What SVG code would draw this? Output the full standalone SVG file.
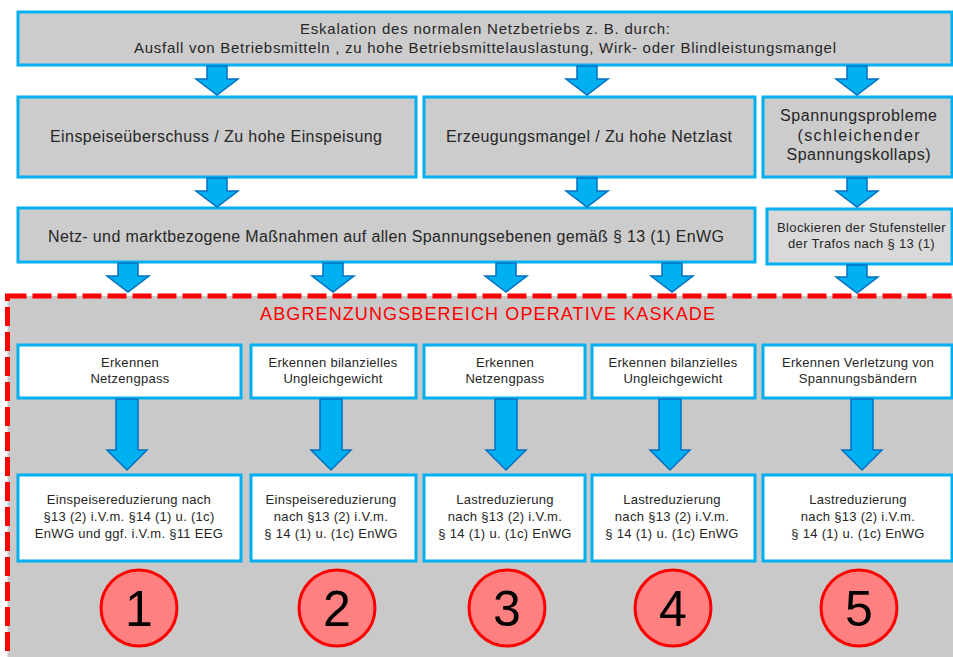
<svg xmlns="http://www.w3.org/2000/svg" width="953" height="657" viewBox="0 0 953 657">
<style>
.box{fill:#cccccc;stroke:#00b0f0;stroke-width:3}
.lbox{fill:#d9d9d9;stroke:#00b0f0;stroke-width:3}
.wbox{fill:#ffffff;stroke:#00b0f0;stroke-width:3}
.arr{fill:#00b0f0;stroke:#0070c0;stroke-width:1.5;stroke-linejoin:miter}
.t{font-family:"Liberation Sans",Arial,sans-serif;fill:#262626;text-anchor:middle}
.t15{font-size:15px}
.t16{font-size:16px}
.t13{font-size:13px;letter-spacing:0.3px}
.circ{fill:#ff8080;stroke:#ff0000;stroke-width:3}
.num{font-family:"Liberation Sans",Arial,sans-serif;font-size:50px;fill:#000;text-anchor:middle}
</style>
<rect width="953" height="657" fill="#ffffff"/>
<g id="cascade-area">
<rect x="7.5" y="296" width="960" height="380" fill="#c9c9c9" stroke="#ff0000" stroke-width="5" stroke-dasharray="19 6"/>
<text x="487.5" y="320" font-family="Liberation Sans,Arial,sans-serif" font-size="18" fill="#ff0000" text-anchor="middle" textLength="455" lengthAdjust="spacing">ABGRENZUNGSBEREICH OPERATIVE KASKADE</text>
</g>
<g id="n-top">
<rect class="box" x="18" y="12" width="934" height="53"/>
<text class="t t15" x="485" y="34" textLength="370" lengthAdjust="spacing">Eskalation des normalen Netzbetriebs z. B. durch:</text>
<text class="t t15" x="485" y="53" textLength="702" lengthAdjust="spacing">Ausfall von Betriebsmitteln , zu hohe Betriebsmittelauslastung, Wirk- oder Blindleistungsmangel</text>
</g>
<g id="n-einspeise">
<rect class="box" x="18" y="97" width="398" height="80"/>
<text class="t t16" x="216" y="142" textLength="332" lengthAdjust="spacing">Einspeiseüberschuss / Zu hohe Einspeisung</text>
</g>
<g id="n-erzeugung">
<rect class="box" x="424" y="97" width="331" height="80"/>
<text class="t t16" x="589" y="142" textLength="286" lengthAdjust="spacing">Erzeugungsmangel / Zu hohe Netzlast</text>
</g>
<g id="n-spannung">
<rect class="box" x="763" y="97" width="189" height="80"/>
<text class="t t16" x="858.5" y="121" textLength="157" lengthAdjust="spacing">Spannungsprobleme</text>
<text class="t t16" x="858.5" y="141" textLength="122" lengthAdjust="spacing">(schleichender</text>
<text class="t t16" x="858.5" y="160" textLength="144" lengthAdjust="spacing">Spannungskollaps)</text>
</g>
<g id="n-massnahmen">
<rect class="box" x="18" y="208" width="737" height="54"/>
<text class="t t16" x="386" y="242" textLength="676" lengthAdjust="spacing">Netz- und marktbezogene Maßnahmen auf allen Spannungsebenen gemäß § 13 (1) EnWG</text>
</g>
<g id="n-blockieren">
<rect class="lbox" x="767" y="209" width="185" height="55"/>
<text class="t t13" x="861.5" y="232" textLength="169" lengthAdjust="spacing">Blockieren der Stufensteller</text>
<text class="t t13" x="861.5" y="248" textLength="147" lengthAdjust="spacing">der Trafos nach § 13 (1)</text>
</g>
<g id="n-erk1">
<rect class="wbox" x="18" y="345" width="223" height="53"/>
<text class="t t13" x="130" y="367">Erkennen</text>
<text class="t t13" x="130" y="383">Netzengpass</text>
</g>
<g id="n-erk2">
<rect class="wbox" x="251" y="345" width="165" height="53"/>
<text class="t t13" x="333" y="367">Erkennen bilanzielles</text>
<text class="t t13" x="333" y="383">Ungleichgewicht</text>
</g>
<g id="n-erk3">
<rect class="wbox" x="424" y="345" width="161" height="53"/>
<text class="t t13" x="505" y="367">Erkennen</text>
<text class="t t13" x="505" y="383">Netzengpass</text>
</g>
<g id="n-erk4">
<rect class="wbox" x="592" y="345" width="163" height="53"/>
<text class="t t13" x="673" y="367">Erkennen bilanzielles</text>
<text class="t t13" x="673" y="383">Ungleichgewicht</text>
</g>
<g id="n-erk5">
<rect class="wbox" x="763" y="345" width="189" height="53"/>
<text class="t t13" x="858" y="367">Erkennen Verletzung von</text>
<text class="t t13" x="858" y="383">Spannungsbändern</text>
</g>
<g id="n-red1">
<rect class="wbox" x="18" y="475" width="223" height="86"/>
<text class="t t13" x="129" y="504">Einspeisereduzierung nach</text>
<text class="t t13" x="129" y="521">§13 (2) i.V.m. §14 (1) u. (1c)</text>
<text class="t t13" x="129" y="538">EnWG und ggf. i.V.m. §11 EEG</text>
</g>
<g id="n-red2">
<rect class="wbox" x="251" y="475" width="165" height="86"/>
<text class="t t13" x="331" y="504">Einspeisereduzierung</text>
<text class="t t13" x="331" y="521">nach §13 (2) i.V.m.</text>
<text class="t t13" x="331" y="538">§ 14 (1) u. (1c) EnWG</text>
</g>
<g id="n-red3">
<rect class="wbox" x="424" y="475" width="161" height="86"/>
<text class="t t13" x="505" y="504">Lastreduzierung</text>
<text class="t t13" x="505" y="521">nach §13 (2) i.V.m.</text>
<text class="t t13" x="505" y="538">§ 14 (1) u. (1c) EnWG</text>
</g>
<g id="n-red4">
<rect class="wbox" x="592" y="475" width="163" height="86"/>
<text class="t t13" x="672" y="504">Lastreduzierung</text>
<text class="t t13" x="672" y="521">nach §13 (2) i.V.m.</text>
<text class="t t13" x="672" y="538">§ 14 (1) u. (1c) EnWG</text>
</g>
<g id="n-red5">
<rect class="wbox" x="763" y="475" width="189" height="86"/>
<text class="t t13" x="858" y="504">Lastreduzierung</text>
<text class="t t13" x="858" y="521">nach §13 (2) i.V.m.</text>
<text class="t t13" x="858" y="538">§ 14 (1) u. (1c) EnWG</text>
</g>
<g id="n-c1"><circle class="circ" cx="139" cy="608" r="38"/><text class="num" x="139" y="626">1</text></g>
<g id="n-c2"><circle class="circ" cx="337" cy="608" r="38"/><text class="num" x="337" y="626">2</text></g>
<g id="n-c3"><circle class="circ" cx="507" cy="608" r="38"/><text class="num" x="507" y="626">3</text></g>
<g id="n-c4"><circle class="circ" cx="673" cy="608" r="38"/><text class="num" x="673" y="626">4</text></g>
<g id="n-c5"><circle class="circ" cx="859" cy="608" r="38"/><text class="num" x="859" y="626">5</text></g>
<g id="connectors">
<path class="arr" d="M207 66 h20 v13 h11 l-21 16 l-21 -16 h11 z"/>
<path class="arr" d="M577 66 h20 v13 h11 l-21 16 l-21 -16 h11 z"/>
<path class="arr" d="M847 66 h20 v13 h11 l-21 16 l-21 -16 h11 z"/>
<path class="arr" d="M207 178 h20 v13 h11 l-21 16 l-21 -16 h11 z"/>
<path class="arr" d="M577 178 h20 v13 h11 l-21 16 l-21 -16 h11 z"/>
<path class="arr" d="M847 178 h20 v13 h11 l-21 16 l-21 -16 h11 z"/>
<path class="arr" d="M118 263 h20 v13 h11 l-21 16 l-21 -16 h11 z"/>
<path class="arr" d="M323 263 h20 v13 h11 l-21 16 l-21 -16 h11 z"/>
<path class="arr" d="M496 263 h20 v13 h11 l-21 16 l-21 -16 h11 z"/>
<path class="arr" d="M662 263 h20 v13 h11 l-21 16 l-21 -16 h11 z"/>
<path class="arr" d="M847 265 h20 v12 h11 l-21 16 l-21 -16 h11 z"/>
<path class="arr" d="M116 399 h22 v51 h9 l-20 20 l-20 -20 h9 z"/>
<path class="arr" d="M320 399 h22 v51 h9 l-20 20 l-20 -20 h9 z"/>
<path class="arr" d="M495 399 h22 v51 h9 l-20 20 l-20 -20 h9 z"/>
<path class="arr" d="M659 399 h22 v51 h9 l-20 20 l-20 -20 h9 z"/>
<path class="arr" d="M851 399 h22 v51 h9 l-20 20 l-20 -20 h9 z"/>
</g>
</svg>
